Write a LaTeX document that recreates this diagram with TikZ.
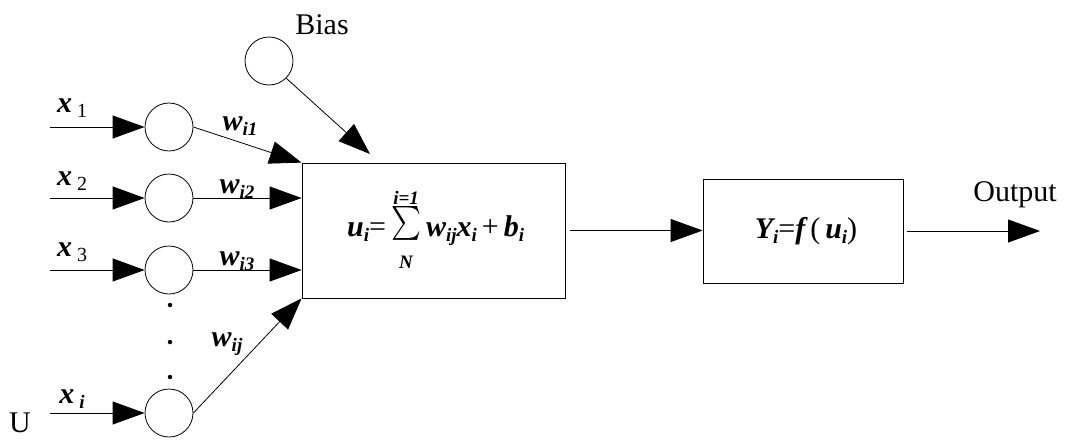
\documentclass[tikz,border=0pt]{standalone}
\usepackage{fontspec}
\setmainfont{Liberation Serif}
\usetikzlibrary{arrows.meta}
\newcommand\bi[1]{{\bfseries\itshape #1}}
\newcommand\sbi[1]{\raisebox{-0.4ex}{\fontsize{19}{19}\selectfont\bfseries\itshape #1}}
\newcommand\sbu[1]{\raisebox{-0.4ex}{\fontsize{20}{20}\selectfont #1}}
\newcommand\limtxt[1]{{\fontsize{19}{19}\selectfont\bfseries\itshape #1}}
\tikzset{
  neuron/.style={circle,draw,line width=0.8pt,minimum size=48pt,inner sep=0pt},
  block/.style={draw,line width=0.8pt,inner sep=0pt},
  arr/.style={line width=0.8pt,-{Triangle[length=32pt,width=23pt]}},
  lbl/.style={font=\fontsize{30}{32}\selectfont,inner sep=0pt},
}
\begin{document}
\begin{tikzpicture}[x=1pt,y=-1pt]
\useasboundingbox (0,0) rectangle (1065,442);
% input circles
\node[neuron] (c1) at (169,127) {};
\node[neuron] (c2) at (169,198) {};
\node[neuron] (c3) at (169,270) {};
\node[neuron] (ci) at (169,413) {};
\node[neuron] (bc) at (269,61) {};
% blocks
\node[block,minimum width=263pt,minimum height=135pt] (box1) at (433.5,230.5) {};
\node[block,minimum width=200pt,minimum height=104pt] (box2) at (803,231) {};
% input starts
\coordinate (s1) at (50,127);
\coordinate (s2) at (50,198);
\coordinate (s3) at (50,270);
\coordinate (si) at (50,413);
\coordinate (bt) at (370,154);
\coordinate (out) at (1040,231);
% input arrows
\draw[arr] (s1) -- (c1.west);
\draw[arr] (s2) -- (c2.west);
\draw[arr] (s3) -- (c3.west);
\draw[arr] (si) -- (ci.west);
% weight arrows
\draw[arr] (c1.east) -- (box1.north west);
\draw[arr] (c2.east) -- (c2.east -| box1.west);
\draw[arr] (c3.east) -- (c3.east -| box1.west);
\draw[arr] (ci.east) -- (box1.south west);
\draw[arr] (bc.south east) -- (bt);
% between blocks
\draw[arr] ([xshift=5pt]box1.east) -- (box2.west |- box1.east);
\draw[arr] ([xshift=4pt]box2.east) -- (out);
% dots
\node[circle,fill,inner sep=0pt,minimum size=4.5pt] (d1) at (170,305) {};
\node[circle,fill,inner sep=0pt,minimum size=4.5pt] (d2) at (170,342) {};
\node[circle,fill,inner sep=0pt,minimum size=4.5pt] (d3) at (170,377) {};
% labels
\node[lbl] (lx1) at (72,108) {\bi{x}\,\sbu{1}};
\node[lbl] (lx2) at (72,181) {\bi{x}\,\sbu{2}};
\node[lbl] (lx3) at (72,252) {\bi{x}\,\sbu{3}};
\node[lbl] (lxi) at (72,399) {\bi{x}\,\sbi{i}};
\node[lbl] (lw1) at (240,126) {\bi{w}\sbi{i1}};
\node[lbl] (lw2) at (237,189) {\bi{w}\sbi{i2}};
\node[lbl] (lw3) at (237,261) {\bi{w}\sbi{i3}};
\node[lbl] (lwj) at (227,344) {\bi{w}\sbi{ij}};
\node[lbl] (lbias) at (322,25) {Bias};
\node[lbl] (lout) at (1015,195) {Output};
\node[lbl] (lu) at (20,423) {U};
\node[lbl,anchor=west] (f1) at (347,230) {\bi{u}\sbi{i}=\,$\vcenter{\hbox{\begin{tabular}{@{}c@{}}\limtxt{i=1}\\[-7pt]\resizebox{30pt}{38pt}{\boldmath$\sum$}\\[-8pt]\limtxt{N}\end{tabular}}}$\,\bi{w}\sbi{ij}\bi{x}\sbi{i}\,+\,\bi{b}\sbi{i}};
\node[lbl] (f2) at (806,231) {\bi{Y}\sbi{i}=\bi{f}\,(\,\bi{u}\sbi{i})};
\end{tikzpicture}
\end{document}
